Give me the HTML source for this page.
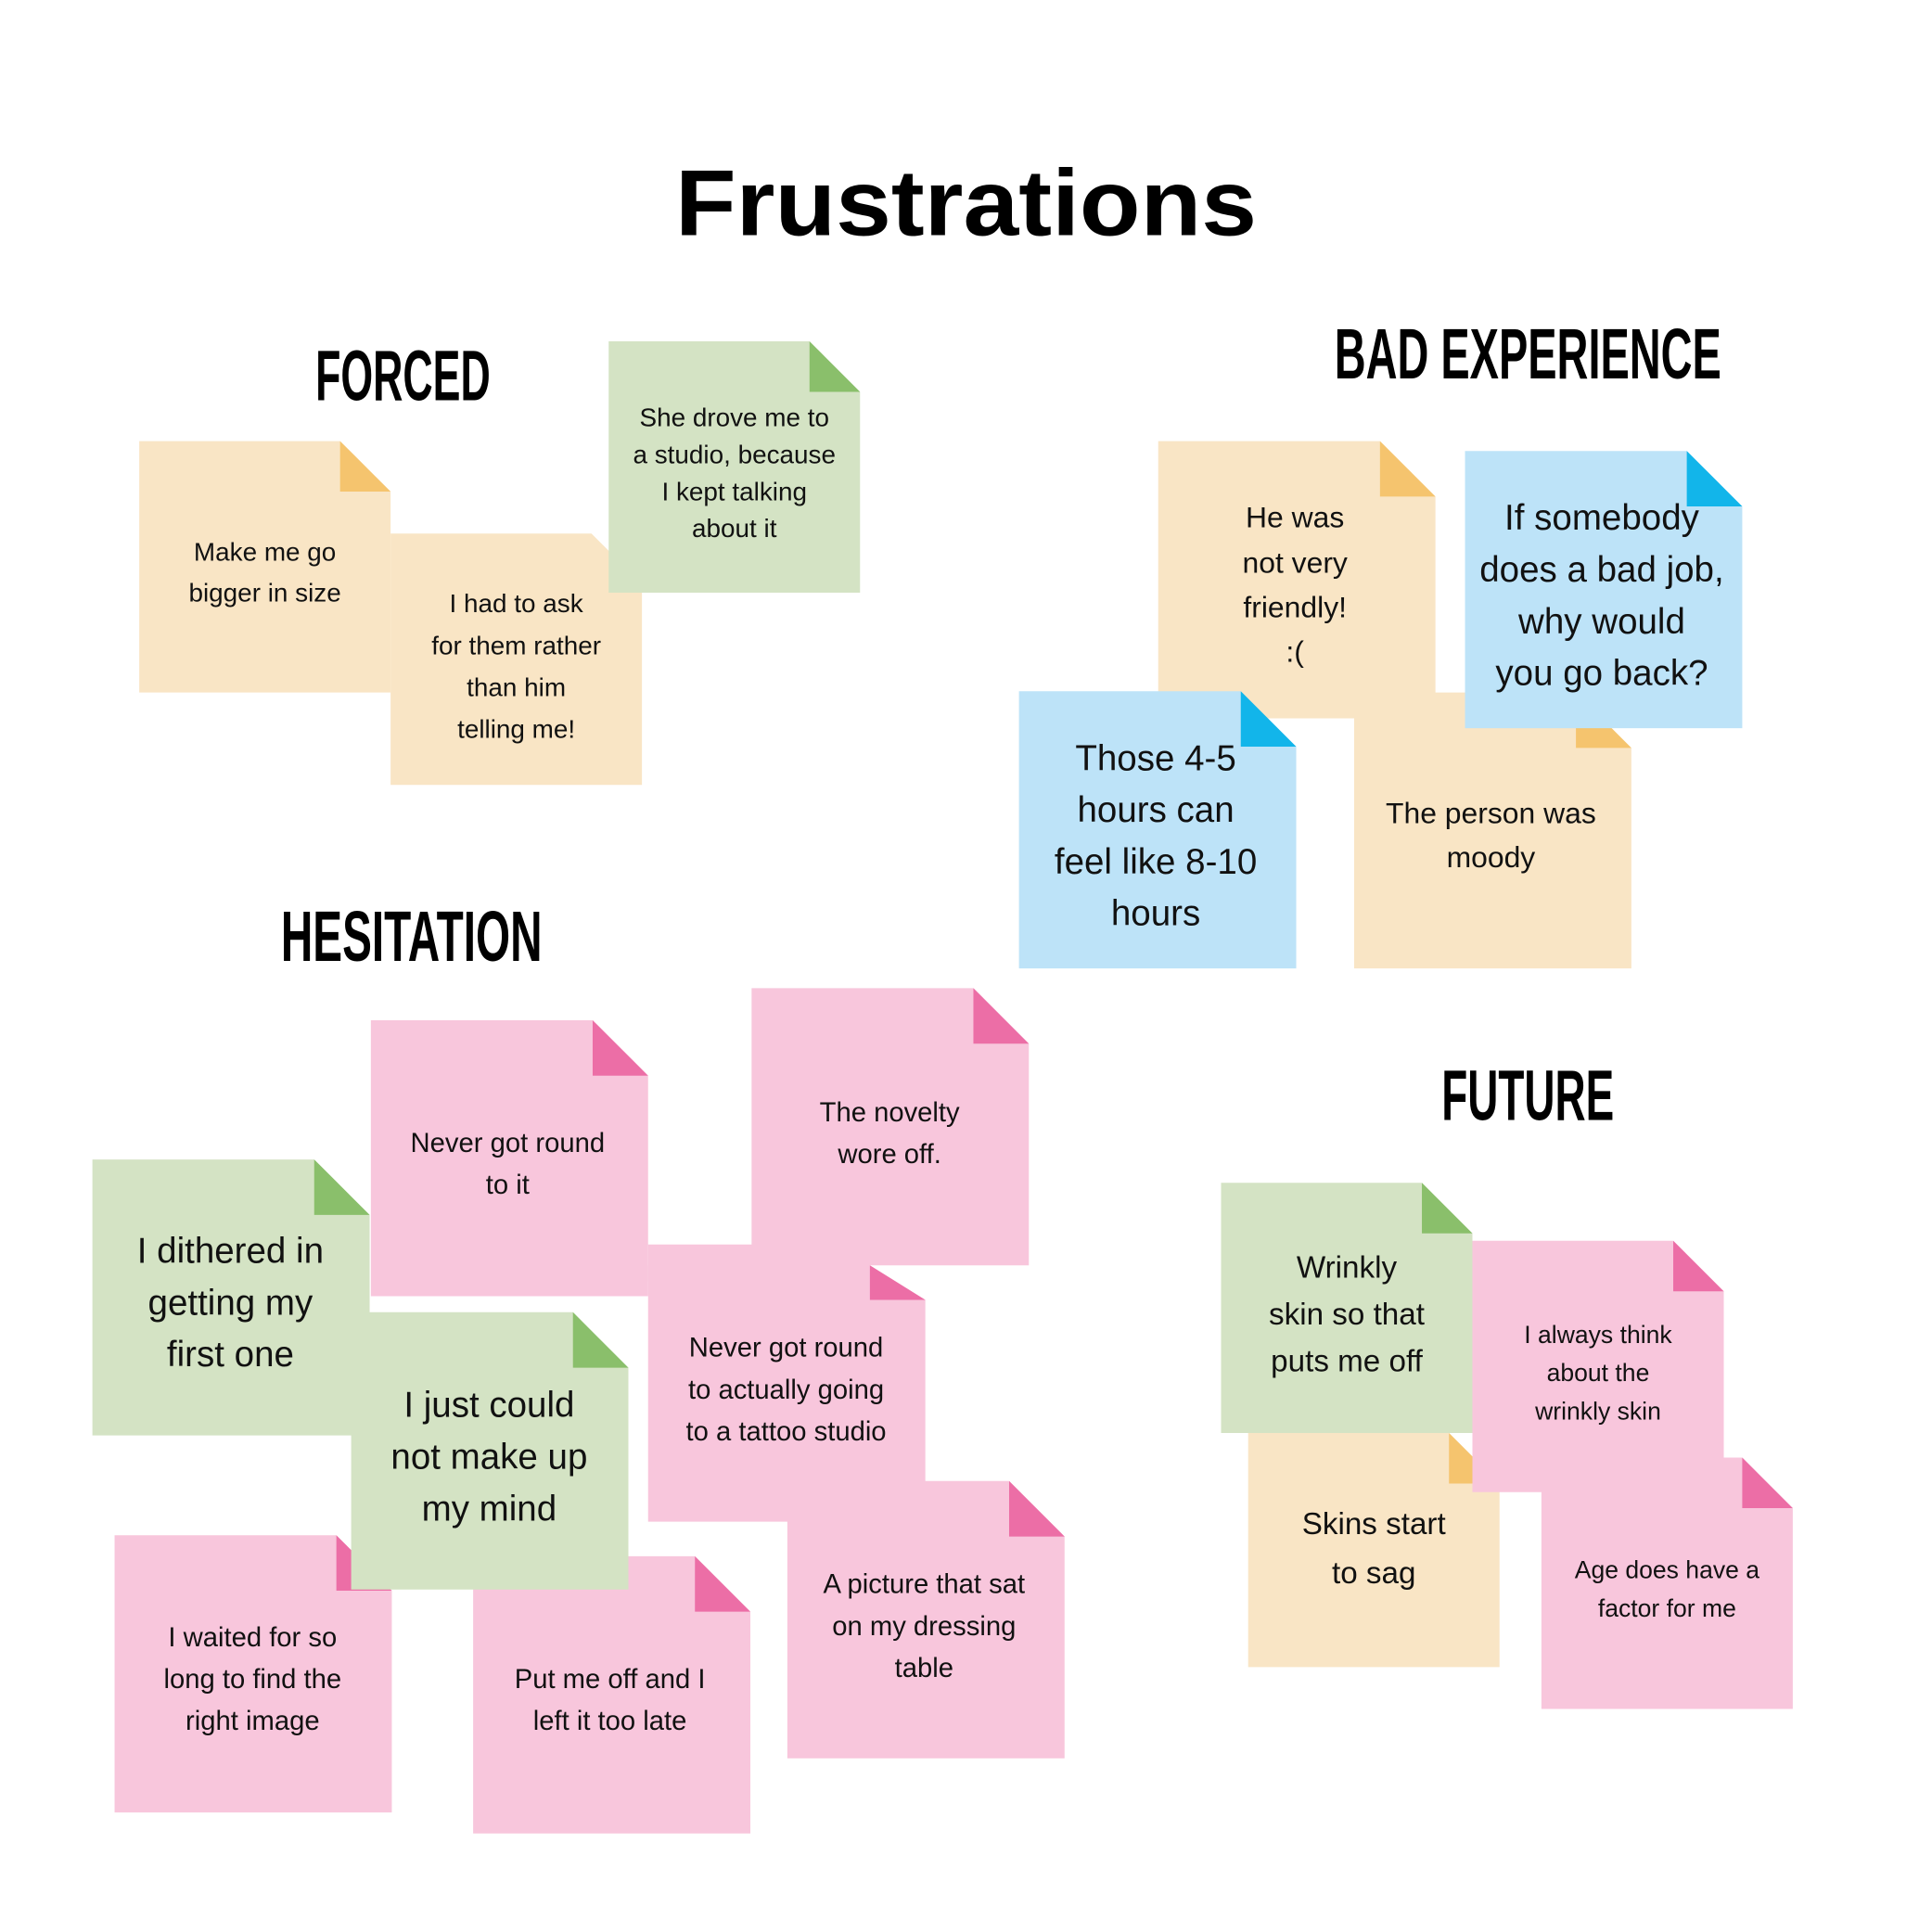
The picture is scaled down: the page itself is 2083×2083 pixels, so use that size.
<!DOCTYPE html>
<html><head><meta charset="utf-8"><style>
html,body{margin:0;padding:0;background:#fff}
svg{display:block}
.h{font-family:"Liberation Sans Narrow","Liberation Sans",sans-serif;font-weight:bold;fill:#000}
.t{font-family:"Liberation Sans",sans-serif;fill:#111;text-anchor:middle}
</style></head><body>
<svg width="2083" height="2083" viewBox="0 0 1568 1568" xmlns="http://www.w3.org/2000/svg">
<rect width="1568" height="1568" fill="#fff"/>
<text x="784" y="191" class="h" font-family="Liberation Sans" font-size="76" text-anchor="middle" textLength="472" lengthAdjust="spacingAndGlyphs" style="font-family:'Liberation Sans',sans-serif">Frustrations</text>
<text x="256" y="325" class="h" font-size="58" textLength="142" lengthAdjust="spacingAndGlyphs">FORCED</text>
<text x="1083" y="307" class="h" font-size="58" textLength="314" lengthAdjust="spacingAndGlyphs">BAD EXPERIENCE</text>
<text x="228" y="780" class="h" font-size="58" textLength="212" lengthAdjust="spacingAndGlyphs">HESITATION</text>
<text x="1170" y="909" class="h" font-size="58" textLength="140" lengthAdjust="spacingAndGlyphs">FUTURE</text>

<polygon points="113,358 276,358 317,399 317,562 113,562" fill="#f9e5c5"/><polygon points="276,358 276,399 317,399" fill="#f5c46e"/>
<polygon points="317,433 480,433 521,474 521,637 317,637" fill="#f9e5c5"/>
<polygon points="494,277 657,277 698,318 698,481 494,481" fill="#d4e3c4"/><polygon points="657,277 657,318 698,318" fill="#8abf6b"/>

<polygon points="1099,562 1279,562 1324,607 1324,786 1099,786" fill="#f9e5c5"/><polygon points="1279,562 1279,607 1324,607" fill="#f5c46e"/>
<polygon points="940,358 1120,358 1165,403 1165,583 940,583" fill="#f9e5c5"/><polygon points="1120,358 1120,403 1165,403" fill="#f5c46e"/>
<polygon points="827,561 1007,561 1052,606 1052,786 827,786" fill="#bde3f8"/><polygon points="1007,561 1007,606 1052,606" fill="#12b5ea"/>
<polygon points="1189,366 1369,366 1414,411 1414,591 1189,591" fill="#bde3f8"/><polygon points="1369,366 1369,411 1414,411" fill="#12b5ea"/>

<polygon points="610,802 790,802 835,847 835,1027 610,1027" fill="#f8c6dc"/><polygon points="790,802 790,847 835,847" fill="#ec6ea6"/>
<polygon points="301,828 481,828 526,873 526,1052 301,1052" fill="#f8c6dc"/><polygon points="481,828 481,873 526,873" fill="#ec6ea6"/>
<rect x="526" y="1010" width="180" height="30" fill="#f8c6dc"/>
<polygon points="526,1027 706,1027 751,1055 751,1235 526,1235" fill="#f8c6dc"/><polygon points="706,1027 706,1055 751,1055" fill="#ec6ea6"/>
<polygon points="75,941 255,941 300,986 300,1165 75,1165" fill="#d4e3c4"/><polygon points="255,941 255,986 300,986" fill="#8abf6b"/>
<polygon points="639,1202 819,1202 864,1247 864,1427 639,1427" fill="#f8c6dc"/><polygon points="819,1202 819,1247 864,1247" fill="#ec6ea6"/>
<polygon points="93,1246 273,1246 318,1291 318,1471 93,1471" fill="#f8c6dc"/><polygon points="273,1246 273,1291 318,1291" fill="#ec6ea6"/>
<polygon points="384,1263 564,1263 609,1308 609,1488 384,1488" fill="#f8c6dc"/><polygon points="564,1263 564,1308 609,1308" fill="#ec6ea6"/>
<polygon points="285,1065 465,1065 510,1110 510,1290 285,1290" fill="#d4e3c4"/><polygon points="465,1065 465,1110 510,1110" fill="#8abf6b"/>

<polygon points="1013,1163 1176,1163 1217,1204 1217,1353 1013,1353" fill="#f9e5c5"/><polygon points="1176,1163 1176,1204 1217,1204" fill="#f5c46e"/>
<polygon points="991,960 1154,960 1195,1001 1195,1163 991,1163" fill="#d4e3c4"/><polygon points="1154,960 1154,1001 1195,1001" fill="#8abf6b"/>
<polygon points="1195,1007 1358,1007 1399,1048 1399,1211 1195,1211" fill="#f8c6dc"/><polygon points="1358,1007 1358,1048 1399,1048" fill="#ec6ea6"/>
<polygon points="1251,1183 1414,1183 1455,1224 1455,1387 1251,1387" fill="#f8c6dc"/><polygon points="1414,1183 1414,1224 1455,1224" fill="#ec6ea6"/>

<g class="t" font-size="21">
<text x="215" y="455">Make me go</text><text x="215" y="488">bigger in size</text>
<text x="419" y="497">I had to ask</text><text x="419" y="531">for them rather</text><text x="419" y="565">than him</text><text x="419" y="599">telling me!</text>
<text x="596" y="346">She drove me to</text><text x="596" y="376">a studio, because</text><text x="596" y="406">I kept talking</text><text x="596" y="436">about it</text>
</g>
<g class="t" font-size="24">
<text x="1051" y="428">He was</text><text x="1051" y="465">not very</text><text x="1051" y="501">friendly!</text><text x="1051" y="537">:(</text>
<text x="1210" y="668">The person was</text><text x="1210" y="704">moody</text>
</g>
<g class="t" font-size="29">
<text x="1300" y="430">If somebody</text><text x="1300" y="472">does a bad job,</text><text x="1300" y="514">why would</text><text x="1300" y="556">you go back?</text>
<text x="938" y="625">Those 4-5</text><text x="938" y="667">hours can</text><text x="938" y="709">feel like 8-10</text><text x="938" y="751">hours</text>
</g>
<g class="t" font-size="22">
<text x="412" y="935">Never got round</text><text x="412" y="969">to it</text>
<text x="722" y="910">The novelty</text><text x="722" y="944">wore off.</text>
<text x="638" y="1101">Never got round</text><text x="638" y="1135">to actually going</text><text x="638" y="1169">to a tattoo studio</text>
<text x="750" y="1293">A picture that sat</text><text x="750" y="1327">on my dressing</text><text x="750" y="1361">table</text>
<text x="205" y="1336">I waited for so</text><text x="205" y="1370">long to find the</text><text x="205" y="1404">right image</text>
<text x="495" y="1370">Put me off and I</text><text x="495" y="1404">left it too late</text>
</g>
<g class="t" font-size="29">
<text x="187" y="1025">I dithered in</text><text x="187" y="1067">getting my</text><text x="187" y="1109">first one</text>
<text x="397" y="1150">I just could</text><text x="397" y="1192">not make up</text><text x="397" y="1234">my mind</text>
</g>
<g class="t" font-size="25">
<text x="1093" y="1037">Wrinkly</text><text x="1093" y="1075">skin so that</text><text x="1093" y="1113">puts me off</text>
<text x="1115" y="1245">Skins start</text><text x="1115" y="1285">to sag</text>
</g>
<g class="t" font-size="20">
<text x="1297" y="1090">I always think</text><text x="1297" y="1121">about the</text><text x="1297" y="1152">wrinkly skin</text>
<text x="1353" y="1281">Age does have a</text><text x="1353" y="1312">factor for me</text>
</g>
</svg>
</body></html>
